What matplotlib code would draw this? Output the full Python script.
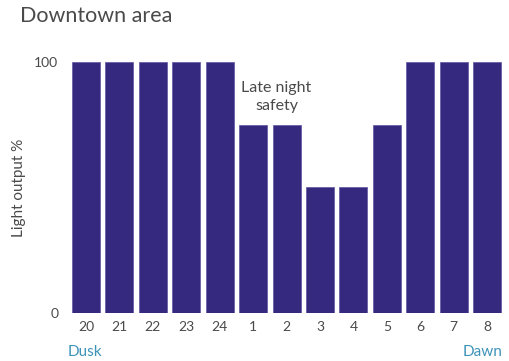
import numpy as np
import matplotlib.pyplot as plt

# hours from dusk to dawn and the light output at each hour
hours = ["20", "21", "22", "23", "24", "1", "2", "3", "4", "5", "6", "7", "8"]
output = [100, 100, 100, 100, 100, 75, 75, 50, 50, 75, 100, 100, 100]
ytick_vals = [0, 100]

bar_col = "#35287f"
grey = "#4a4a4a"
teal = "#3d93b8"

plt.rcParams['font.family'] = ['Lato', 'DejaVu Sans']

fig = plt.figure(figsize=(5.1, 3.61), dpi=100)
ax = fig.add_axes([69.3 / 510, 48 / 361, 434.5 / 510, 251 / 361])

x = np.arange(len(hours))
ax.bar(x, output, width=0.84, color=bar_col, edgecolor="#6a5fa8", linewidth=0.6)

ax.set_xlim(-0.5, len(hours) - 0.5)
ax.set_ylim(0, 100)
ax.set_xticks(x)
ax.set_xticklabels(hours, fontsize=10, color=grey)
ax.set_yticks(ytick_vals)
ax.set_yticklabels([str(v) for v in ytick_vals], fontsize=10, color=grey)
ax.tick_params(length=0)
ax.tick_params(axis="x", pad=6)
ax.tick_params(axis="y", pad=8)
for s in ax.spines.values():
    s.set_visible(False)

ax.set_ylabel("Light output %", fontsize=11, color=grey, labelpad=6)

ax.text(5.7, 86, "Late night\nsafety", ha="center", va="center",
        fontsize=11.5, color=grey, linespacing=1.3)

fig.text(20 / 510, 1 - 16 / 361, "Downtown area", fontsize=15.5,
         color=grey, va="center", ha="left")
fig.text(68 / 510, 1 - 352 / 361, "Dusk", fontsize=11, color=teal,
         va="center", ha="left")
fig.text(503 / 510, 1 - 352 / 361, "Dawn", fontsize=11, color=teal,
         va="center", ha="right")

fig.savefig("out.png", dpi=100)
